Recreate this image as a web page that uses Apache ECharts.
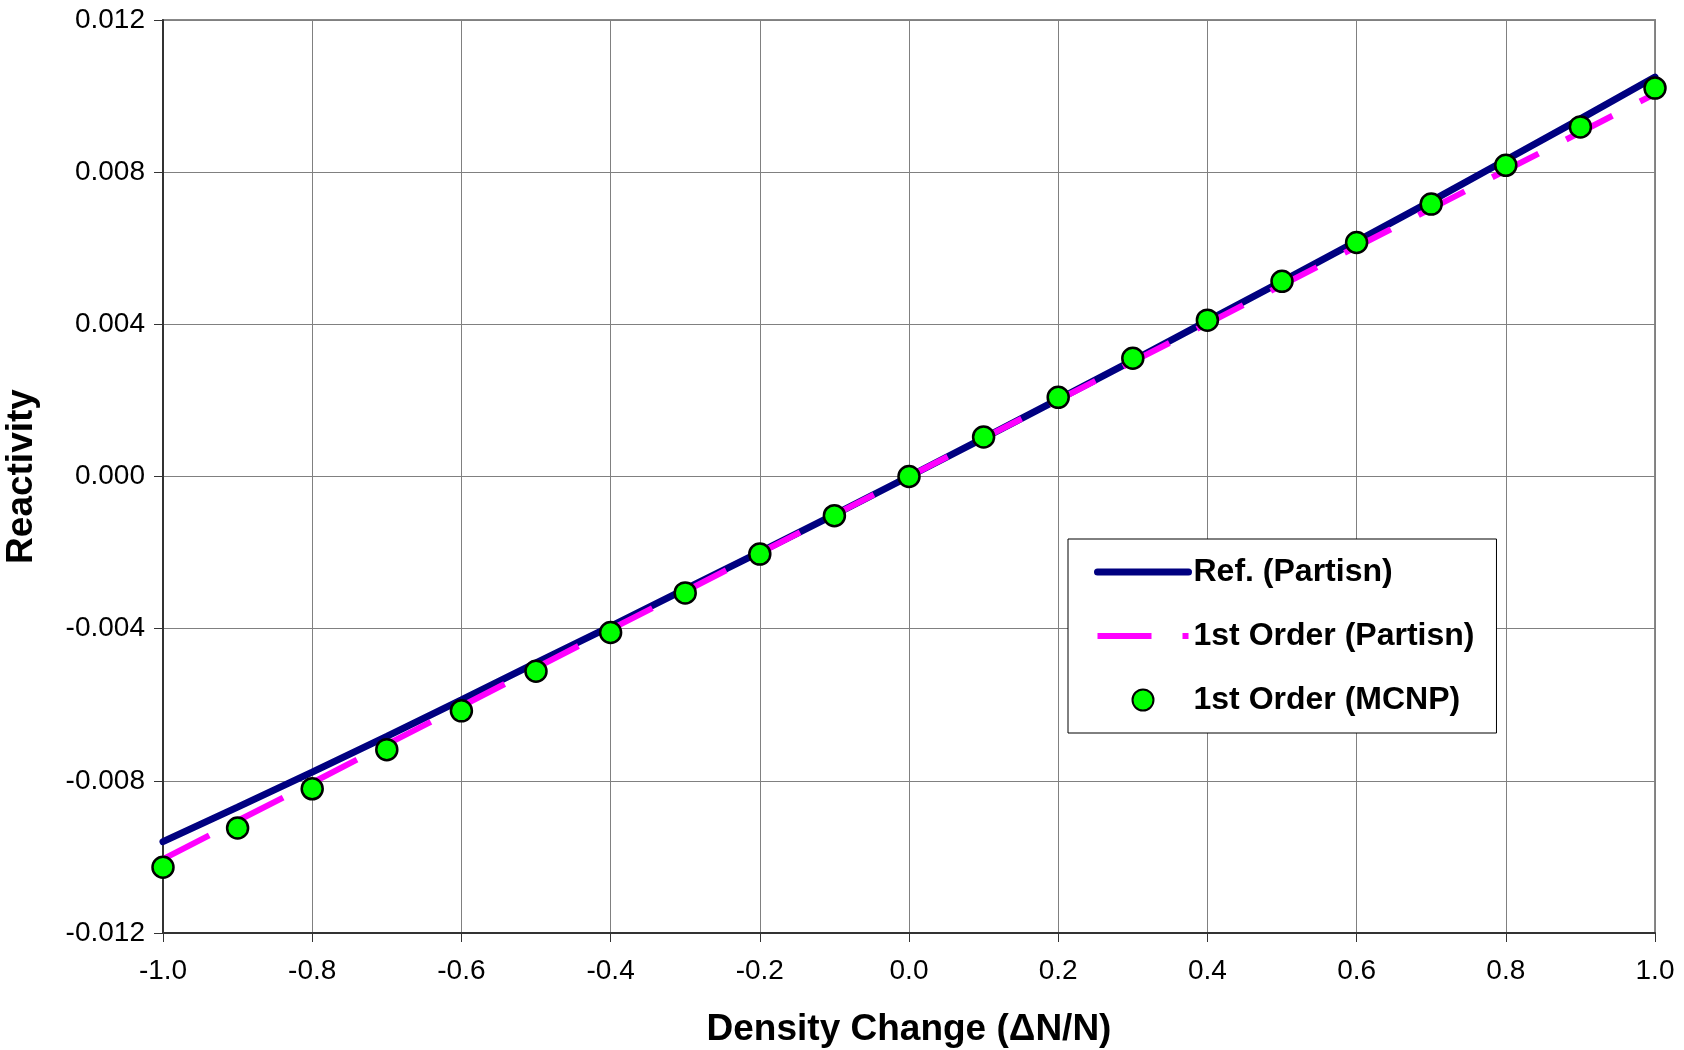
<!DOCTYPE html>
<html>
<head>
<meta charset="utf-8">
<script src="https://cdn.jsdelivr.net/npm/echarts@6/dist/echarts.min.js"></script>
<style>
  html, body { margin: 0; padding: 0; background: #fff; }
  #chart { width: 1684px; height: 1050px; }
</style>
</head>
<body>
<div id="chart"></div>
<script>
// density change steps (ΔN/N)
const densityX = [-1.0, -0.9, -0.8, -0.7, -0.6, -0.5, -0.4, -0.3, -0.2, -0.1, 0.0,
                  0.1, 0.2, 0.3, 0.4, 0.5, 0.6, 0.7, 0.8, 0.9, 1.0];

// Ref. (Partisn)
const refPartisn = [-0.00960, -0.00869, -0.00777, -0.00683, -0.00587, -0.00490, -0.00394,
                    -0.00296, -0.00199, -0.00100, 0.0, 0.00101, 0.00203, 0.00305, 0.00409,
                    0.00513, 0.00618, 0.00724, 0.00832, 0.00940, 0.01050];

// 1st Order (Partisn)
const firstPartisn = [-0.01006, -0.00905, -0.00805, -0.00704, -0.00604, -0.00503, -0.00402,
                      -0.00302, -0.00201, -0.00101, 0.0, 0.00101, 0.00201, 0.00302, 0.00402,
                      0.00503, 0.00604, 0.00704, 0.00805, 0.00905, 0.01006];

// 1st Order (MCNP)
const firstMcnp = [-0.01027, -0.00924, -0.00821, -0.00718, -0.00616, -0.00512, -0.00410,
                   -0.00306, -0.00204, -0.00103, 0.0, 0.00104, 0.00208, 0.00311, 0.00411,
                   0.00513, 0.00615, 0.00716, 0.00818, 0.00919, 0.01021];

const xTicks = { min: -1.0, max: 1.0, step: 0.2 };
const yTicks = { min: -0.012, max: 0.012, step: 0.004 };

const pairs = (ys) => densityX.map((x, i) => [x, ys[i]]);

const FONT = '"Liberation Sans", Arial, sans-serif';
const NAVY = '#000080';
const MAGENTA = '#ff00ff';
const DASH = [52, 31];

const chart = echarts.init(document.getElementById('chart'));

const option = {
    backgroundColor: '#fff',
    animation: false,
    grid: {
        left: 163,
        right: 29,
        top: 20,
        bottom: 117,
        show: true,
        borderColor: '#888',
        borderWidth: 2,
        outerBoundsMode: 'none',
        containLabel: false,
    },
    legend: {
        orient: 'vertical',
        left: 1068,
        top: 539,
        padding: [14, 22, 14, 26],
        borderColor: '#000',
        borderWidth: 1,
        backgroundColor: '#fff',
        itemWidth: 91,
        itemHeight: 21,
        itemGap: 26,
        textStyle: {
            fontFamily: FONT,
            fontSize: 32,
            fontWeight: 'bold',
            color: '#000',
            lineHeight: 38,
        },
        data: [
            {
                name: 'Ref. (Partisn)',
                itemStyle: { opacity: 0 },
                lineStyle: { color: NAVY, width: 7, cap: 'round' },
            },
            {
                name: '1st Order (Partisn)',
                itemStyle: { opacity: 0 },
                lineStyle: { color: MAGENTA, width: 6, type: [54, 31] },
            },
            {
                name: '1st Order (MCNP)',
            },
        ],
    },
    xAxis: {
        type: 'value',
        min: xTicks.min,
        max: xTicks.max,
        interval: xTicks.step,
        name: 'Density Change (ΔN/N)',
        nameLocation: 'middle',
        nameGap: 78,
        nameTextStyle: {
            fontFamily: FONT,
            fontSize: 37,
            fontWeight: 'bold',
            color: '#000',
        },
        axisLine: { onZero: false, lineStyle: { color: '#333', width: 2 } },
        axisTick: { show: true, length: 9, lineStyle: { color: '#333', width: 1 } },
        axisLabel: {
            fontFamily: FONT,
            fontSize: 28,
            color: '#000',
            margin: 24,
            formatter: (v) => v.toFixed(1),
        },
        splitLine: { show: true, lineStyle: { color: '#808080', width: 1 } },
    },
    yAxis: {
        type: 'value',
        min: yTicks.min,
        max: yTicks.max,
        interval: yTicks.step,
        name: 'Reactivity',
        nameLocation: 'middle',
        nameGap: 123,
        nameTextStyle: {
            fontFamily: FONT,
            fontSize: 37,
            fontWeight: 'bold',
            color: '#000',
        },
        axisLine: { show: true, onZero: false, lineStyle: { color: '#333', width: 2 } },
        axisTick: { show: true, length: 9, lineStyle: { color: '#333', width: 1 } },
        axisLabel: {
            fontFamily: FONT,
            fontSize: 28,
            color: '#000',
            margin: 18,
            formatter: (v) => v.toFixed(3),
        },
        splitLine: { show: true, lineStyle: { color: '#808080', width: 1 } },
    },
    series: [
        {
            name: 'Ref. (Partisn)',
            type: 'line',
            data: pairs(refPartisn),
            showSymbol: false,
            symbol: 'none',
            lineStyle: { color: NAVY, width: 7, cap: 'round' },
            itemStyle: { color: NAVY },
            z: 2,
        },
        {
            name: '1st Order (Partisn)',
            type: 'line',
            data: pairs(firstPartisn),
            showSymbol: false,
            symbol: 'none',
            lineStyle: { color: MAGENTA, width: 6, type: DASH, cap: 'butt' },
            itemStyle: { color: MAGENTA },
            z: 3,
        },
        {
            name: '1st Order (MCNP)',
            type: 'scatter',
            data: pairs(firstMcnp),
            symbol: 'circle',
            symbolSize: 21,
            itemStyle: { color: '#00ff00', borderColor: '#000', borderWidth: 2.5, opacity: 1 },
            z: 4,
        },
    ],
};

chart.setOption(option);
</script>
</body>
</html>
